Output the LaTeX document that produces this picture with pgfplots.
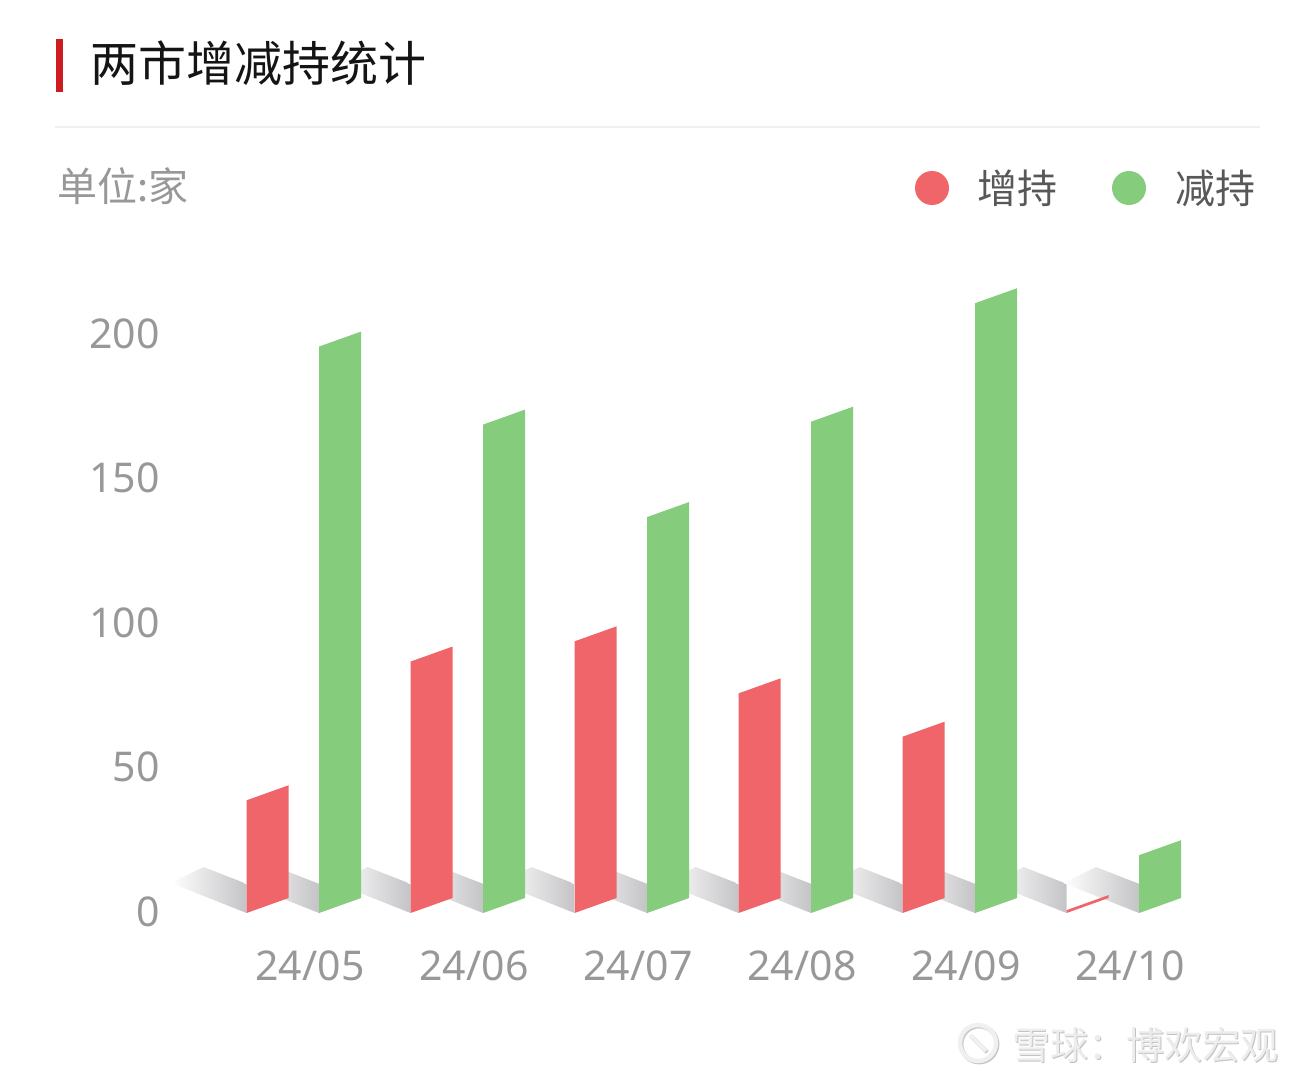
\documentclass[border=0pt]{standalone}
\usepackage{fontspec}
\setmainfont{Noto Sans}
\newfontfamily\cjk{Noto Sans CJK SC}
\usepackage{pgfplots}
\pgfplotsset{compat=1.18}
\definecolor{barred}{RGB}{239,101,106}
\definecolor{bargreen}{RGB}{133,204,125}
\definecolor{titlered}{RGB}{204,28,32}
\definecolor{tickgray}{RGB}{152,152,152}
\definecolor{legtext}{RGB}{88,88,88}
\definecolor{shadowgray}{RGB}{196,196,199}
\definecolor{sepgray}{RGB}{240,240,240}
\begin{document}
\begin{tikzpicture}
% header
\fill[titlered] (28pt,-19.5pt) rectangle (31.5pt,-46pt);
\node[anchor=west, inner sep=0pt, text=black!92] at (45pt,-31.5pt) {\cjk\fontsize{24}{28}\selectfont 两市增减持统计};
\draw[sepgray, line width=0.6pt] (27.5pt,-63.5pt) -- (630pt,-63.5pt);
\node[anchor=west, inner sep=0pt, text=tickgray] at (28.5pt,-93pt) {\cjk\fontsize{20}{24}\selectfont 单位:家};
% legend
\fill[barred] (466pt,-94pt) circle (8.5pt);
\node[anchor=west, inner sep=0pt, text=legtext] at (488.5pt,-94pt) {\cjk\fontsize{20}{24}\selectfont 增持};
\fill[bargreen] (564.5pt,-94pt) circle (8.5pt);
\node[anchor=west, inner sep=0pt, text=legtext] at (587.5pt,-94pt) {\cjk\fontsize{20}{24}\selectfont 减持};
% watermark (embossed look)
\draw[black!22, line width=2.2pt] (489.6pt,-522.1pt) circle (9pt);
\draw[black!6, line width=2.2pt] (489pt,-521.5pt) circle (9pt);
\draw[black!22, line width=2pt] (485.6pt,-518.1pt) -- (493.6pt,-526.1pt);
\draw[black!6, line width=2pt] (485pt,-517.5pt) -- (493pt,-525.5pt);
\node[anchor=west, inner sep=0pt, text=black!24] at (506.6pt,-523.1pt) {\cjk\fontsize{19}{22}\selectfont 雪球：博欢宏观};
\node[anchor=west, inner sep=0pt, text=black!7] at (506pt,-522.5pt) {\cjk\fontsize{19}{22}\selectfont 雪球：博欢宏观};
\begin{axis}[
  at={(84pt,-468.06pt)}, anchor=south west,
  x=82pt, y=1.445pt,
  xmin=-0.866, xmax=5.6, ymin=-8, ymax=230,
  clip=false,
  axis line style={draw=none},
  major tick length=0pt,
  tick style={draw=none},
  xtick={0,1,2,3,4,5},
  xticklabels={24/05,24/06,24/07,24/08,24/09,24/10},
  ytick={0,50,100,150,200},
  /pgf/number format/assume math mode=true,
  ticklabel style={font=\fontsize{20.5}{24}\selectfont, text=tickgray},
  yticklabel style={anchor=east, inner sep=0pt, xshift=-4pt, yshift=0.6pt},
  xticklabel style={anchor=north, inner sep=0pt, yshift=-7pt},
]
% floor shadows first
\foreach \i/\r/\g in {0/39/196,1/87/169,2/94/137,3/76/170,4/61/211,5/1/20} {
  \pgfmathsetmacro\ra{\i-0.387}
  \pgfmathsetmacro\ga{\i+0.055}
  \pgfmathsetmacro\rs{\ra-0.4634}
  \pgfmathsetmacro\rt{\ra-0.2622}
  \pgfmathsetmacro\gs{\ga-0.4634}
  \pgfmathsetmacro\gt{\ga-0.2622}
  \edef\tmp{
    \noexpand\addplot[draw=none, left color=white, right color=shadowgray] coordinates {(\ra,0) (\rs,10.4) (\rt,15.9) (\ra,10.1)} -- cycle;
    \noexpand\addplot[draw=none, left color=white, right color=shadowgray] coordinates {(\ga,0) (\gs,10.4) (\gt,15.9) (\ga,10.1)} -- cycle;
  }
  \tmp
}
% bars (slanted front faces)
\foreach \i/\r/\g in {0/39/196,1/87/169,2/94/137,3/76/170,4/61/211,5/1/20} {
  \pgfmathsetmacro\ra{\i-0.387}
  \pgfmathsetmacro\rb{\i-0.131}
  \pgfmathsetmacro\ga{\i+0.055}
  \pgfmathsetmacro\gb{\i+0.311}
  \pgfmathsetmacro\rv{\r+5.19}
  \pgfmathsetmacro\gv{\g+5.19}
  \edef\tmp{
    \noexpand\addplot[draw=none, fill=barred] coordinates {(\ra,0) (\rb,5.19) (\rb,\rv) (\ra,\r)} -- cycle;
    \noexpand\addplot[draw=none, fill=bargreen] coordinates {(\ga,0) (\gb,5.19) (\gb,\gv) (\ga,\g)} -- cycle;
  }
  \tmp
}
\end{axis}
\pgfresetboundingbox
\useasboundingbox (0,0) rectangle (656pt,-543pt);
\end{tikzpicture}
\end{document}
